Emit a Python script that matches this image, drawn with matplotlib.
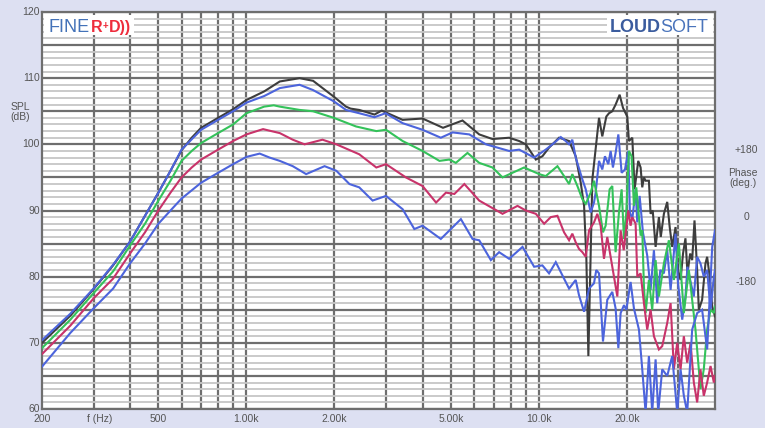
import matplotlib
matplotlib.use("Agg")
import matplotlib.pyplot as plt
from matplotlib.patches import Rectangle
from matplotlib.ticker import FixedLocator, MultipleLocator, NullLocator, NullFormatter

# ---- data (frequency in Hz, SPL in dB) ----
BLACK_F = [
    200, 250, 300, 350, 400, 450, 500, 550, 600, 650,
    700, 800, 900, 1000, 1150, 1300, 1520, 1690, 1990, 2190,
    2270, 2430, 2740, 2900, 3420, 4000, 4700, 5480, 6250, 6940,
    7910, 8560, 9020, 9760, 10280, 10830, 11720, 12680, 13360, 13900,
    14270, 14530, 14760, 15230, 16050, 16470, 17000, 17360, 17820, 18290,
    18880, 19390, 20050, 20310, 20860, 21240, 21860, 22270, 22560, 22860,
    23160, 23770, 24090, 24500, 25060, 25720, 26100, 26750, 27460, 28000,
    28560, 29320, 29900, 30500, 31100, 31700, 32200, 32900, 33420, 34040,
    34760, 35220, 36140, 37110, 37600, 38300, 39130, 40000]
BLACK_SPL = [
    70.0, 74.1, 78.1, 81.7, 85.3, 89.2, 92.7, 96.0, 99.1, 101.0,
    102.5, 104.0, 105.3, 106.7, 108.0, 109.5, 110.0, 109.6, 107.2, 105.7,
    105.4, 105.2, 104.5, 105.1, 103.7, 103.9, 102.5, 103.6, 101.5, 100.8,
    101.0, 100.5, 100.0, 97.7, 98.2, 99.5, 101.0, 100.5, 98.2, 94.2,
    90.7, 82.7, 68.0, 94.7, 104.0, 101.2, 104.2, 104.7, 105.0, 106.0,
    107.5, 105.5, 104.2, 100.5, 101.0, 93.2, 97.5, 96.5, 93.5, 95.0,
    94.5, 94.5, 89.5, 90.0, 84.5, 89.0, 86.0, 89.5, 91.3, 87.5,
    84.5, 87.5, 81.0, 79.5, 83.5, 85.8, 80.5, 83.5, 82.5, 88.5,
    81.0, 75.0, 76.5, 82.0, 83.0, 80.2, 75.5, 74.0]

BLUE_TOP_F = [
    200, 250, 300, 350, 400, 450, 500, 550, 600, 700,
    800, 900, 1000, 1150, 1300, 1520, 1690, 1990, 2190, 2430,
    2740, 2990, 3420, 4000, 4620, 5070, 5780, 6590, 7910, 8560,
    9630, 10550, 11270, 11880, 12350, 12680, 13010, 13360, 14080, 14460,
    15030, 15430, 15630, 16050, 16470, 16820, 17270, 17590, 17910, 18290,
    18690, 19180, 19690, 20210, 20470, 20860, 21410, 21690, 22100, 22680,
    23460, 24090, 24730, 25380, 26000, 26750, 27460, 28200, 29320, 29900,
    30900, 31700, 32200, 32900, 33860, 34760, 35680, 36620, 37600, 38620,
    39640, 40000]
BLUE_TOP_SPL = [
    70.4, 74.4, 78.2, 81.8, 85.3, 89.2, 92.7, 96.0, 99.2, 102.2,
    103.7, 105.0, 106.3, 107.3, 108.5, 109.0, 108.2, 106.5, 105.2, 104.7,
    104.1, 104.7, 103.2, 102.2, 101.0, 101.8, 101.5, 100.0, 99.0, 99.2,
    98.0, 99.2, 100.2, 101.1, 100.5, 100.0, 100.7, 98.0, 94.7, 93.2,
    89.7, 91.2, 92.7, 97.5, 96.2, 98.2, 97.0, 99.0, 96.5, 98.7,
    101.5, 95.7, 96.2, 99.0, 89.7, 88.7, 93.2, 88.2, 92.2, 86.7,
    83.2, 78.0, 84.0, 76.0, 81.0, 80.5, 84.0, 78.0, 86.5, 79.0,
    73.5, 77.0, 81.5, 79.5, 77.0, 83.0, 82.0, 80.0, 81.0, 75.0,
    80.0, 81.0]

GREEN_F = [
    200, 250, 300, 350, 400, 450, 500, 550, 600, 650,
    700, 800, 900, 1000, 1150, 1240, 1300, 1520, 1690, 1990,
    2370, 2780, 3000, 3420, 4000, 4570, 4940, 5200, 5700, 6250,
    6940, 7510, 8120, 8900, 10020, 10550, 11570, 12190, 12680, 13010,
    13540, 14080, 14460, 15030, 15430, 16050, 16560, 16910, 17450, 17820,
    18290, 18780, 19180, 19540, 19900, 20310, 20740, 21130, 21520, 22270,
    22560, 22860, 23160, 23770, 24400, 25060, 25720, 26750, 27820, 28940,
    30100, 31300, 32560, 34300, 35680, 36620, 37600, 38620, 39640, 40000]
GREEN_SPL = [
    69.2, 73.5, 77.5, 80.8, 84.7, 88.0, 91.5, 94.5, 97.5, 99.0,
    100.2, 101.7, 103.0, 104.7, 105.7, 105.9, 105.7, 105.2, 105.0, 104.0,
    102.7, 102.0, 102.2, 100.5, 99.0, 97.5, 97.7, 97.2, 98.7, 97.2,
    96.5, 95.0, 95.7, 96.5, 95.5, 95.2, 96.7, 95.2, 94.0, 95.5,
    93.7, 91.7, 91.0, 92.7, 94.5, 90.7, 86.7, 87.7, 93.2, 93.7,
    83.7, 89.7, 93.2, 85.7, 89.7, 99.0, 98.2, 90.7, 93.5, 86.2,
    87.0, 78.5, 74.5, 79.5, 75.0, 82.5, 77.0, 82.0, 85.5, 79.5,
    85.0, 74.5, 81.0, 72.0, 63.0, 66.0, 72.0, 75.0, 74.5, 75.5]

RED_F = [
    200, 250, 300, 350, 400, 450, 500, 550, 600, 650,
    700, 800, 900, 1000, 1140, 1190, 1300, 1440, 1580, 1820,
    2030, 2430, 2780, 3000, 3510, 4000, 4450, 4810, 5140, 5560,
    6250, 7510, 8450, 9020, 9760, 10420, 10980, 11570, 12190, 12680,
    13010, 13360, 13710, 14080, 14460, 14840, 15430, 15840, 16260, 16690,
    17130, 17820, 18540, 19030, 19500, 20210, 20580, 20850, 21410, 21700,
    22270, 22860, 23460, 24090, 24730, 25720, 26400, 27460, 28200, 28940,
    29700, 30500, 31300, 32140, 33000, 33860, 34760, 35680, 36620, 37600,
    38620, 39640, 40000]
RED_SPL = [
    68.3, 72.6, 76.7, 79.7, 83.5, 86.7, 90.0, 92.7, 95.0, 96.5,
    97.7, 99.2, 100.5, 101.5, 102.3, 102.1, 101.7, 100.7, 100.0, 100.7,
    100.0, 98.5, 96.5, 97.0, 95.0, 93.7, 91.2, 92.7, 92.5, 94.0,
    91.5, 89.5, 90.7, 90.0, 89.5, 88.0, 89.0, 89.2, 86.7, 85.5,
    86.5, 85.2, 84.2, 83.7, 83.0, 87.0, 88.2, 89.5, 87.7, 82.7,
    86.0, 81.5, 77.0, 87.0, 84.0, 90.0, 87.7, 89.0, 88.0, 80.0,
    80.5, 76.0, 72.0, 75.0, 71.0, 69.0, 69.5, 73.0, 76.0, 66.0,
    70.0, 66.0, 71.0, 67.0, 70.0, 64.0, 61.0, 66.0, 62.0, 64.0,
    66.5, 64.0, 65.0]

BLUE_LOW_F = [
    200, 250, 300, 350, 400, 450, 500, 550, 600, 700,
    800, 900, 1000, 1110, 1200, 1300, 1440, 1600, 1850, 2030,
    2250, 2430, 2700, 3000, 3420, 3750, 4000, 4620, 5410, 5930,
    6250, 6850, 7310, 7910, 8790, 9630, 10280, 10830, 11420, 12190,
    12680, 13360, 13710, 14270, 14840, 15430, 15710, 16050, 16560, 17130,
    17820, 18290, 18690, 19030, 19540, 19900, 20580, 21130, 21980, 22560,
    23160, 23770, 24400, 25060, 25580, 26400, 27460, 28560, 29700, 30500,
    31300, 32140, 33420, 34760, 36140, 37600, 39130, 40000]
BLUE_LOW_SPL = [
    66.4, 71.5, 75.2, 78.2, 82.0, 85.0, 88.0, 90.0, 91.8, 94.2,
    95.7, 97.0, 98.1, 98.6, 98.0, 97.5, 96.7, 95.5, 96.7, 96.0,
    94.0, 93.5, 91.5, 92.2, 90.2, 87.2, 87.7, 85.7, 88.7, 85.7,
    85.5, 82.5, 83.7, 82.7, 84.5, 81.5, 81.7, 80.5, 82.2, 79.7,
    78.2, 79.5, 77.2, 74.7, 78.2, 79.0, 81.0, 80.5, 70.2, 76.5,
    77.7, 75.2, 69.2, 74.5, 75.7, 75.0, 79.2, 75.2, 72.0, 66.0,
    59.5, 68.0, 59.5, 67.5, 59.5, 66.0, 65.0, 68.0, 59.5, 66.0,
    62.0, 59.5, 72.0, 74.5, 75.0, 69.0, 84.5, 87.0]

X_GRID = [300, 400, 500, 600, 700, 800, 900, 1000, 2000, 3000, 4000,
          5000, 6000, 7000, 8000, 9000, 10000, 20000, 30000]
X_LABELS = {200: "200", 500: "500", 1000: "1.00k", 2000: "2.00k",
            5000: "5.00k", 10000: "10.0k", 20000: "20.0k"}
Y_LABELS = [60, 70, 80, 90, 100, 110, 120]
PHASE_LABELS = ["+180", "0", "-180"]
PHASE_Y = [150, 216.7, 282]  # pixel rows of the phase labels

W, H = 765, 428
BG = "#dde0f2"
GRID_DARK = "#6e6e6e"
GRID_LIGHT = "#c6c6c6"
TXT = "#555555"
FONT = "Liberation Sans"


def fpos(x, y):
    # pixel position -> figure fraction
    return x / W, 1 - y / H


fig = plt.figure(figsize=(W / 100, H / 100), dpi=100, facecolor=BG)
ax = fig.add_axes([42 / W, 1 - 409 / H, 673 / W, 397 / H])
ax.set_facecolor("white")

curves = [
    (BLACK_F, BLACK_SPL, "#3d3d3d"),
    (BLUE_TOP_F, BLUE_TOP_SPL, "#4c64dc"),
    (GREEN_F, GREEN_SPL, "#34c25a"),
    (RED_F, RED_SPL, "#c8336a"),
    (BLUE_LOW_F, BLUE_LOW_SPL, "#4c64dc"),
]
for f, spl, col in curves:
    ax.plot(f, spl, color=col, lw=1.5, zorder=3, solid_joinstyle="miter")

ax.set_xscale("log")
ax.set_xlim(200, 40000)
ax.set_ylim(60, 120)

ax.xaxis.set_major_locator(FixedLocator(X_GRID))
ax.xaxis.set_minor_locator(NullLocator())
ax.xaxis.set_major_formatter(NullFormatter())
ax.xaxis.set_minor_formatter(NullFormatter())
ax.yaxis.set_major_locator(MultipleLocator(5))
ax.yaxis.set_minor_locator(MultipleLocator(1))
ax.yaxis.set_major_formatter(NullFormatter())
ax.tick_params(which="both", length=0)

ax.grid(True, which="minor", axis="y", color=GRID_LIGHT, lw=1.3, zorder=1)
ax.grid(True, which="major", axis="both", color=GRID_DARK, lw=1.6, zorder=2)
ax.set_axisbelow(True)
for sp in ax.spines.values():
    sp.set_color(GRID_DARK)
    sp.set_linewidth(1.6)

# axis labels drawn as text so they can sit exactly like the original
for v in Y_LABELS:
    ax.text(-0.003, v, str(v), transform=ax.get_yaxis_transform(),
            ha="right", va="center", fontsize=7.5, color=TXT, family=FONT)
for fr, lab in X_LABELS.items():
    ax.text(fr, -0.012, lab, transform=ax.get_xaxis_transform(),
            ha="center", va="top", fontsize=7.5, color=TXT, family=FONT)
fig.text(*fpos(100, 419), "f (Hz)", ha="center", va="center",
         fontsize=7.5, color=TXT, family=FONT)
fig.text(*fpos(20, 107), "SPL", ha="center", va="center",
         fontsize=7.5, color=TXT, family=FONT)
fig.text(*fpos(20, 117.5), "(dB)", ha="center", va="center",
         fontsize=7.5, color=TXT, family=FONT)

# phase scale on the right
for lab, yy in zip(PHASE_LABELS, PHASE_Y):
    fig.text(*fpos(746, yy), lab, ha="center", va="center",
             fontsize=7.5, color=TXT, family=FONT)
fig.text(*fpos(743, 172.5), "Phase", ha="center", va="center",
         fontsize=7.5, color=TXT, family=FONT)
fig.text(*fpos(743, 183.5), "(deg.)", ha="center", va="center",
         fontsize=7.5, color=TXT, family=FONT)

# logos
for x0, x1 in [(44, 134), (607, 713)]:
    fig.patches.append(Rectangle(fpos(x0, 35), (x1 - x0) / W, 20 / H,
                                 transform=fig.transFigure, facecolor="white",
                                 edgecolor="none", zorder=4))
fig.text(*fpos(48.5, 32), "FINE", fontsize=13, color="#4372b8",
         family=FONT, va="baseline", zorder=5)
fig.text(*fpos(91, 32), "R", fontsize=11.5, color="#ee2d3c",
         family=FONT, weight="bold", va="baseline", zorder=5)
fig.text(*fpos(103, 29.5), "+", fontsize=7, color="#ee2d3c",
         family=FONT, weight="bold", va="baseline", zorder=5)
fig.text(*fpos(109, 32), "D))", fontsize=11.5, color="#ee2d3c",
         family=FONT, weight="bold", va="baseline", zorder=5)
fig.text(*fpos(609.5, 32), "LOUD", fontsize=13, color="#3b5c9e",
         family=FONT, weight="bold", va="baseline", zorder=5)
fig.text(*fpos(660.5, 32), "SOFT", fontsize=13, color="#4a74bb",
         family=FONT, va="baseline", zorder=5)

fig.savefig("out.png", dpi=100, facecolor=BG)
